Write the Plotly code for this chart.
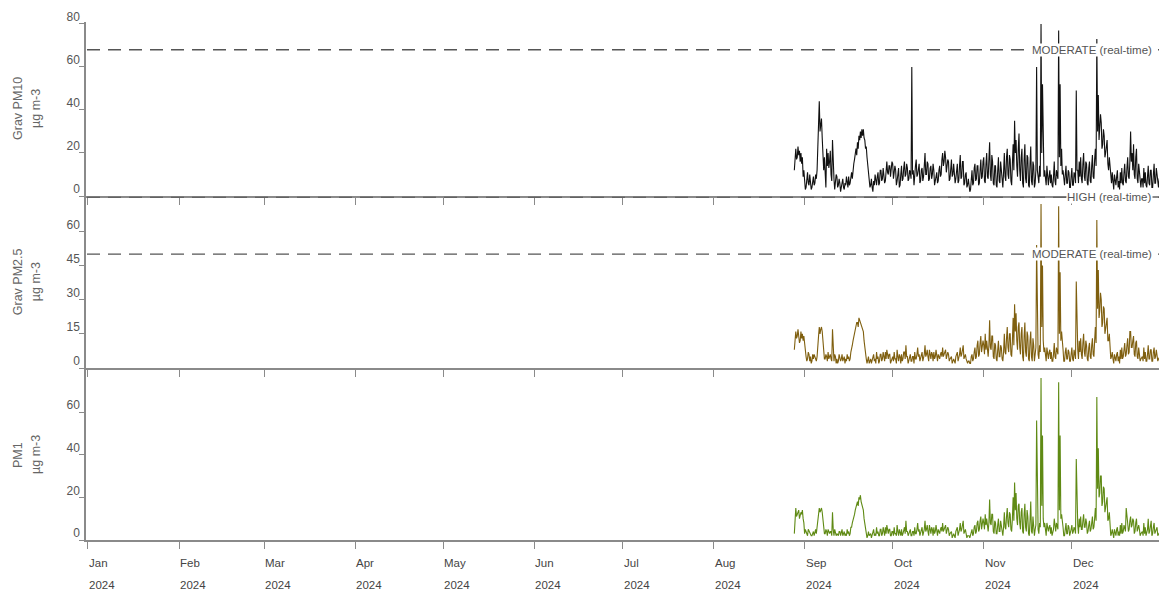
import pandas as pd
import plotly.graph_objects as go

# 6-hourly concentrations (µg m-3) starting 2024-08-28 12:00
series_start, series_step = "2024-08-28 12:00", "6h"

pm10 = [
    12, 21,
    22, 17, 18, 23, 19, 21, 16, 20, 15, 18, 9, 12,
    # Sep
    8, 3, 4, 9, 11, 6, 5, 10, 7, 3, 4, 8, 9, 5, 6, 10, 8, 12, 20, 30,
    44, 30, 33, 36, 27, 22, 12, 18, 6, 4, 22, 14, 20, 13, 16, 21, 10, 7, 26, 12,
    8, 3, 6, 10, 9, 4, 5, 8, 6, 2, 4, 7, 8, 4, 3, 6, 5, 9, 7, 4,
    9, 5, 6, 11, 11, 8, 13, 15, 17, 20, 22, 19, 25, 22, 28, 26, 30, 27, 31, 28,
    31, 27, 26, 22, 23, 18, 15, 11, 9, 4, 5, 8, 4, 2, 7, 5, 10, 6, 5, 9,
    11, 5, 6, 12, 12, 7, 8, 13, 9, 6, 7, 11, 16, 11, 10, 14, 14, 9, 12, 16,
    # Oct
    15, 8, 11, 14, 12, 5, 7, 11, 13, 4, 5, 10, 14, 7, 8, 13, 16, 9, 10, 15,
    13, 7, 8, 12, 11, 8, 60, 10, 12, 5, 8, 14, 17, 9, 10, 15, 15, 6, 7, 12,
    13, 7, 9, 14, 20, 10, 10, 16, 15, 7, 8, 13, 14, 8, 10, 15, 12, 5, 7, 11,
    11, 6, 7, 12, 14, 9, 10, 17, 20, 14, 16, 21, 18, 11, 13, 17, 16, 7, 8, 14,
    17, 9, 10, 15, 12, 6, 8, 13, 15, 6, 7, 14, 19, 8, 9, 16, 16, 5, 6, 10,
    11, 4, 5, 8, 5, 2, 3, 9, 12, 5, 6, 13, 15, 7, 8, 14, 14, 5, 6, 12,
    17, 8, 9, 16,
    # Nov
    18, 7, 6, 15, 20, 9, 8, 17, 25, 10, 7, 19, 16, 6, 5, 14, 14, 5, 4, 12,
    18, 7, 6, 16, 12, 5, 4, 11, 20, 9, 7, 18, 22, 10, 8, 19, 17, 7, 5, 15,
    24, 12, 35, 20, 26, 14, 9, 22, 29, 12, 7, 18, 22, 6, 4, 17, 24, 8, 6, 19,
    18, 5, 4, 15, 23, 7, 5, 16, 14, 4, 6, 12, 60, 12, 8, 6, 14, 9, 80, 20,
    52, 16, 9, 12, 9, 5, 14, 8, 5, 9, 12, 6, 10, 5, 4, 9, 16, 7, 5, 12,
    10, 8, 77, 18, 52, 14, 22, 10, 12, 5, 5, 10, 14, 6, 6, 12, 11, 4, 4, 9,
    # Dec
    13, 5, 5, 11, 10, 6, 49, 12, 12, 6, 16, 9, 18, 8, 6, 15, 20, 9, 7, 16,
    15, 6, 5, 13, 16, 7, 6, 14, 19, 9, 8, 17, 22, 14, 73, 30, 47, 26, 30, 38,
    34, 22, 24, 31, 28, 18, 20, 25, 26, 15, 12, 18, 14, 7, 6, 11, 6, 3, 10, 5,
    5, 9, 12, 4, 7, 3, 11, 6, 13, 6, 5, 11, 15, 7, 6, 13, 18, 9, 8, 16,
    30, 16, 20, 12, 24, 10, 8, 18, 22, 8, 6, 15, 10, 4, 4, 8, 8, 4, 13, 6,
    11, 5, 4, 9, 14, 6, 5, 12, 12, 4, 4, 10, 15, 6, 6, 13, 10, 5, 4, 8,
    9,
]

pm25 = [
    8, 15,
    16, 13, 14, 17, 15, 11, 12, 16, 13, 15, 12, 14,
    # Sep
    11, 6, 5, 3, 4, 7, 6, 3, 5, 2, 3, 6, 4, 6, 5, 3, 3, 5, 8, 14,
    18, 15, 17, 18, 16, 10, 6, 4, 4, 6, 5, 3, 7, 4, 5, 6, 4, 3, 17, 6,
    3, 6, 5, 2, 4, 2, 3, 6, 5, 3, 4, 6, 3, 5, 5, 2, 4, 3, 6, 4,
    5, 3, 4, 7, 8, 10, 12, 14, 15, 17, 18, 20, 20, 18, 22, 21, 21, 19, 18, 17,
    16, 12, 8, 5, 4, 2, 3, 5, 2, 3, 4, 2, 3, 5, 6, 3, 4, 2, 7, 4,
    5, 2, 3, 6, 6, 3, 4, 7, 5, 3, 7, 4, 8, 5, 4, 6, 6, 2, 3, 5,
    # Oct
    5, 3, 7, 4, 4, 2, 8, 5, 3, 6, 5, 2, 6, 3, 4, 7, 7, 4, 10, 5,
    5, 2, 4, 6, 6, 3, 3, 5, 5, 2, 7, 4, 4, 6, 9, 5, 6, 3, 5, 7,
    7, 3, 4, 6, 10, 5, 6, 8, 5, 3, 8, 4, 4, 7, 6, 3, 7, 4, 5, 8,
    5, 3, 6, 4, 4, 6, 7, 5, 9, 5, 6, 8, 8, 4, 5, 7, 6, 3, 4, 5,
    5, 2, 3, 4, 3, 2, 5, 6, 7, 3, 4, 6, 9, 5, 6, 8, 10, 4, 5, 6,
    4, 2, 2, 3, 3, 2, 2, 5, 6, 3, 4, 7, 9, 4, 5, 10, 12, 5, 6, 11,
    14, 7, 9, 12,
    # Nov
    10, 6, 15, 8, 12, 5, 5, 10, 21, 9, 8, 14, 14, 5, 4, 11, 10, 4, 3, 8,
    12, 5, 5, 10, 9, 4, 3, 7, 15, 7, 6, 13, 18, 9, 7, 15, 15, 6, 5, 12,
    22, 10, 28, 16, 24, 12, 8, 18, 20, 9, 6, 15, 18, 5, 3, 14, 20, 7, 5, 16,
    14, 4, 3, 12, 16, 5, 3, 13, 10, 3, 6, 9, 54, 10, 6, 4, 10, 7, 72, 18,
    45, 12, 7, 9, 6, 3, 9, 5, 4, 7, 8, 4, 7, 3, 3, 6, 11, 5, 4, 9,
    8, 6, 71, 15, 42, 12, 16, 8, 8, 3, 3, 7, 9, 4, 4, 8, 7, 3, 3, 6,
    # Dec
    9, 4, 3, 8, 6, 4, 38, 9, 8, 4, 12, 7, 13, 6, 4, 11, 15, 7, 5, 12,
    10, 4, 3, 9, 11, 5, 4, 10, 13, 6, 5, 12, 18, 11, 65, 26, 43, 22, 25, 33,
    30, 18, 20, 27, 26, 15, 18, 22, 22, 12, 12, 15, 9, 4, 5, 7, 4, 2, 6, 3,
    3, 6, 7, 3, 5, 2, 8, 4, 9, 4, 5, 8, 11, 5, 6, 10, 13, 6, 7, 16,
    16, 9, 9, 12, 14, 6, 5, 11, 12, 5, 4, 9, 6, 3, 4, 5, 5, 3, 9, 4,
    7, 3, 3, 6, 10, 4, 4, 8, 8, 3, 3, 7, 9, 4, 5, 8, 6, 3, 4, 5,
    5,
]

pm1 = [
    3, 13,
    15, 11, 12, 14, 14, 10, 11, 13, 12, 14, 10, 8,
    # Sep
    3, 5, 4, 2, 2, 5, 4, 3, 3, 2, 2, 4, 4, 2, 3, 5, 3, 6, 12, 14,
    15, 13, 14, 15, 13, 8, 4, 3, 3, 5, 4, 2, 5, 3, 3, 4, 4, 2, 13, 5,
    2, 5, 4, 2, 3, 2, 2, 4, 4, 2, 3, 5, 2, 4, 4, 2, 3, 2, 5, 3,
    4, 2, 3, 6, 6, 8, 9, 11, 12, 14, 16, 18, 18, 16, 20, 19, 21, 18, 17, 16,
    14, 10, 7, 4, 3, 1, 2, 4, 2, 3, 3, 1, 2, 4, 5, 2, 3, 2, 6, 3,
    4, 2, 2, 5, 5, 2, 3, 6, 4, 2, 6, 3, 7, 4, 3, 5, 5, 2, 2, 4,
    # Oct
    4, 2, 6, 3, 3, 2, 7, 4, 2, 5, 4, 2, 5, 2, 3, 6, 6, 3, 9, 4,
    4, 2, 3, 5, 5, 2, 2, 4, 4, 2, 6, 3, 3, 5, 8, 4, 5, 2, 4, 6,
    6, 2, 3, 5, 9, 4, 5, 7, 4, 2, 7, 3, 3, 6, 5, 2, 6, 3, 4, 7,
    4, 2, 5, 3, 3, 5, 6, 4, 8, 4, 5, 7, 7, 3, 4, 6, 5, 2, 3, 4,
    4, 1, 2, 3, 2, 1, 4, 5, 6, 2, 3, 5, 8, 4, 5, 7, 9, 3, 4, 5,
    3, 1, 2, 2, 2, 1, 2, 4, 5, 2, 3, 6, 7, 3, 4, 8, 9, 4, 5, 9,
    11, 5, 7, 10,
    # Nov
    8, 5, 12, 7, 10, 4, 4, 8, 19, 8, 7, 12, 12, 4, 3, 9, 8, 3, 3, 7,
    10, 4, 4, 9, 7, 3, 2, 6, 13, 6, 5, 11, 15, 8, 6, 13, 12, 5, 4, 10,
    20, 9, 27, 14, 22, 10, 7, 16, 17, 8, 5, 13, 15, 4, 3, 12, 17, 6, 4, 14,
    11, 3, 2, 9, 18, 4, 3, 11, 8, 2, 5, 7, 56, 9, 5, 3, 8, 6, 76, 16,
    49, 10, 6, 8, 5, 2, 8, 4, 4, 6, 7, 3, 6, 2, 3, 5, 10, 4, 4, 8,
    6, 5, 74, 14, 49, 10, 12, 6, 6, 2, 2, 5, 8, 3, 3, 7, 6, 2, 3, 5,
    # Dec
    7, 3, 4, 6, 5, 3, 38, 8, 7, 3, 10, 6, 11, 5, 5, 9, 12, 6, 6, 10,
    8, 3, 4, 7, 9, 4, 5, 8, 11, 5, 6, 10, 15, 9, 67, 24, 43, 20, 22, 30,
    30, 16, 18, 25, 24, 13, 16, 20, 20, 9, 10, 13, 6, 2, 3, 5, 3, 1, 5, 2,
    2, 5, 6, 2, 4, 2, 7, 3, 8, 3, 4, 7, 6, 4, 15, 8, 8, 4, 5, 9,
    11, 6, 7, 10, 9, 3, 4, 8, 10, 4, 5, 7, 5, 2, 3, 4, 4, 2, 8, 3,
    6, 2, 3, 5, 10, 3, 4, 7, 9, 2, 3, 6, 8, 3, 4, 6, 6, 2, 3, 4,
    4,
]

month_ticks = pd.date_range("2024-01-01", "2024-12-01", freq="MS")
month_names = ["Jan", "Feb", "Mar", "Apr", "May", "Jun",
               "Jul", "Aug", "Sep", "Oct", "Nov", "Dec"]
year_labels = ["2024"] * 12

pm10_ticks = [0, 20, 40, 60, 80]
pm25_ticks = [0, 15, 30, 45, 60]
pm1_ticks = [0, 20, 40, 60]

pm10_moderate = 68
pm25_moderate = 50
pm25_high = 75

W, H = 1159, 593
FONT = "Liberation Sans, Arial, sans-serif"
AXIS_GREY = "#8a8a8a"
TEXT_GREY = "#555555"


def py(pix):
    """Convert a pixel row (from the top) to paper y."""
    return 1 - pix / H


def px(pix):
    """Convert a pixel column to paper x."""
    return pix / W


x_range = ["2023-12-31 08:00", "2024-12-30 16:00"]
x_dom = [px(86), 1.0]

panels = [
    # (values, colour, y-domain pixels (bottom, top), y max, ticks, title)
    (pm10, "#111111", (196, 22), 80.9, pm10_ticks, "Grav PM10"),
    (pm25, "#7f5f0f", (368, 196.5), 75.3, pm25_ticks, "Grav PM2.5"),
    (pm1, "#5f8a14", (540, 370), 79.7, pm1_ticks, "PM1"),
]

fig = go.Figure()
layout = dict(
    width=W, height=H,
    margin=dict(l=0, r=0, t=0, b=0, pad=0, autoexpand=False),
    paper_bgcolor="white", plot_bgcolor="white",
    showlegend=False,
    font=dict(family=FONT, size=10, color=TEXT_GREY),
)
annotations = []
shapes = []

for i, (vals, colour, (ybot, ytop), ymax, ticks, title) in enumerate(panels, start=1):
    sfx = "" if i == 1 else str(i)
    times = pd.date_range(series_start, periods=len(vals), freq=series_step)
    fig.add_trace(go.Scatter(
        x=times, y=vals, mode="lines",
        line=dict(color=colour, width=1.1),
        xaxis="x" + sfx, yaxis="y" + sfx,
        hoverinfo="skip",
    ))
    layout["xaxis" + sfx] = dict(
        domain=x_dom, anchor="y" + sfx, type="date", range=x_range,
        tickvals=list(month_ticks), showticklabels=False,
        ticks="outside", ticklen=7, tickwidth=1, tickcolor=AXIS_GREY,
        showline=True, linecolor=AXIS_GREY, linewidth=1.5,
        showgrid=False, zeroline=False, automargin=False,
    )
    layout["yaxis" + sfx] = dict(
        domain=[py(ybot), py(ytop)], anchor="x" + sfx, range=[0, ymax],
        tickvals=ticks, ticks="outside", ticklen=5, tickwidth=1,
        tickcolor=AXIS_GREY, showline=True, linecolor=AXIS_GREY,
        linewidth=1.5, showgrid=False, zeroline=False, automargin=False,
        tickfont=dict(family=FONT, size=12, color=TEXT_GREY),
        ticklabelshift=-7, ticklabelstandoff=-3,
    )
    ymid = py((ybot + ytop) / 2)
    annotations.append(dict(
        text=title, x=px(18), y=ymid, xref="paper", yref="paper",
        textangle=-90, showarrow=False, xanchor="center", yanchor="middle",
        font=dict(family=FONT, size=12.5, color="#666666"),
    ))
    annotations.append(dict(
        text="µg m-3", x=px(36), y=ymid, xref="paper", yref="paper",
        textangle=-90, showarrow=False, xanchor="center", yanchor="middle",
        font=dict(family=FONT, size=12.5, color="#666666"),
    ))

# Air-quality category thresholds
thresholds = [
    ("y", pm10_moderate, "MODERATE (real-time)"),
    ("y2", pm25_moderate, "MODERATE (real-time)"),
    ("y2", pm25_high, "HIGH (real-time)"),
]
for yref, level, label in thresholds:
    shapes.append(dict(
        type="line", xref="paper", yref=yref,
        x0=px(87), x1=1.0, y0=level, y1=level,
        line=dict(color="#555555", width=1.3, dash="13px,8px"),
        layer="above",
    ))
    annotations.append(dict(
        text=label, x=px(1153), y=level, xref="paper", yref=yref,
        xanchor="right", yanchor="middle", showarrow=False,
        bgcolor="white", borderpad=0,
        font=dict(family=FONT, size=11.5, color=TEXT_GREY),
    ))

# Month / year labels under the bottom panel, left-aligned on each tick
for d, m, yr in zip(month_ticks, month_names, year_labels):
    annotations.append(dict(
        text=m, x=d, y=py(563), xref="x3", yref="paper",
        xanchor="left", yanchor="middle", showarrow=False, xshift=-1,
        font=dict(family=FONT, size=11.5, color="#444444"),
    ))
    annotations.append(dict(
        text=yr, x=d, y=py(585), xref="x3", yref="paper",
        xanchor="left", yanchor="middle", showarrow=False, xshift=-1,
        font=dict(family=FONT, size=11.5, color="#444444"),
    ))

layout["annotations"] = annotations
layout["shapes"] = shapes
fig.update_layout(**layout)

fig.write_html("out.html")
